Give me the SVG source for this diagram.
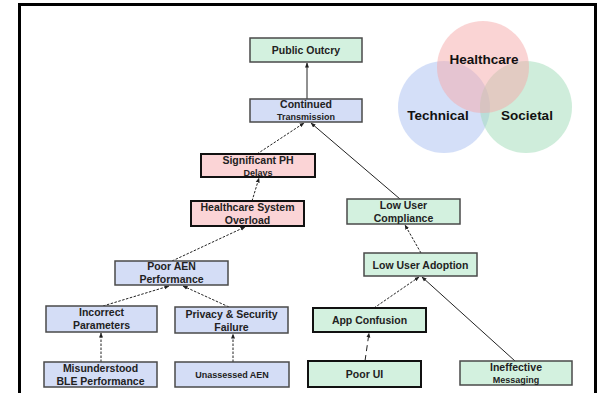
<svg xmlns="http://www.w3.org/2000/svg" width="598" height="393" viewBox="0 0 598 393">
<defs>
<marker id="ah" viewBox="0 0 10 10" refX="9" refY="5" markerWidth="5" markerHeight="5" orient="auto-start-reverse" markerUnits="userSpaceOnUse">
<path d="M0,1 L10,5 L0,9 z" fill="#222"/>
</marker>
<style>
.bx{stroke:#4a4a4a;stroke-width:1.5}
.bk{stroke:#111;stroke-width:2}
.g{fill:#d3f1df}
.b{fill:#d4ddf6}
.p{fill:#fbd4d6}
.t{font-family:"Liberation Sans",Arial,sans-serif;font-weight:bold;fill:#222;text-anchor:middle}
.t1{font-size:10.5px}
.t2{font-size:9px}
.v{font-family:"Liberation Sans",Arial,sans-serif;font-weight:bold;font-size:13.5px;fill:#111;text-anchor:middle}
.sl{stroke:#222;stroke-width:1;fill:none;marker-end:url(#ah)}
.ds{stroke:#222;stroke-width:1;stroke-dasharray:2.5 1.5;fill:none;marker-end:url(#ah)}
.ld{stroke:#222;stroke-width:1;stroke-dasharray:6 4;fill:none;marker-end:url(#ah)}
</style>
</defs>
<rect x="0" y="0" width="598" height="393" fill="#fff"/>
<path d="M19.5,400 L19.5,4.5 L595.5,4.5 L595.5,400" fill="none" stroke="#000" stroke-width="3"/>

<g id="venn">
<circle cx="444" cy="107" r="46" fill="#a9c0f2" fill-opacity="0.5"/>
<circle cx="526" cy="107" r="46" fill="#9fdcb8" fill-opacity="0.5"/>
<circle cx="483" cy="67" r="46" fill="#f6a9a9" fill-opacity="0.5"/>
<text class="v" x="484" y="64">Healthcare</text>
<text class="v" x="438" y="120">Technical</text>
<text class="v" x="527" y="120">Societal</text>
</g>

<g id="connectors">
<line class="sl" x1="307" y1="99" x2="307" y2="63" stroke-width="1.8"/>
<line class="ds" x1="257" y1="154" x2="304" y2="123"/>
<line class="sl" x1="400" y1="199" x2="311" y2="123"/>
<line class="ds" x1="252" y1="201" x2="259" y2="178"/>
<line class="ds" x1="172" y1="261" x2="245" y2="227"/>
<line class="ds" x1="421" y1="253" x2="405" y2="225"/>
<line class="ds" x1="103" y1="306" x2="169" y2="286"/>
<line class="ds" x1="229" y1="307" x2="183" y2="286"/>
<line class="ds" x1="101" y1="362" x2="101" y2="333" stroke="#888"/>
<line class="ds" x1="233" y1="362" x2="233" y2="334" stroke="#888"/>
<line class="ds" x1="374" y1="308" x2="419" y2="277"/>
<line class="sl" x1="515" y1="361" x2="422" y2="277"/>
<line class="ld" x1="365" y1="361" x2="369" y2="333"/>
</g>

<g id="public-outcry"><rect class="bx g" x="250" y="38" width="112" height="24"/><text class="t t1" x="306" y="53.5">Public Outcry</text></g>
<g id="continued-transmission"><rect class="bx b" x="250" y="99" width="112" height="23"/><text class="t t1" x="306" y="108">Continued</text><text class="t t2" x="306" y="120">Transmission</text></g>
<g id="significant-ph-delays"><rect class="bk p" x="201" y="154" width="114" height="23"/><text class="t t1" x="258" y="164">Significant PH</text><text class="t t2" x="258" y="176">Delays</text></g>
<g id="healthcare-system-overload"><rect class="bk p" x="191" y="201" width="113" height="25"/><text class="t t1" x="247.5" y="211">Healthcare System</text><text class="t t1" x="247.5" y="224">Overload</text></g>
<g id="low-user-compliance"><rect class="bx g" x="347" y="199" width="113" height="25"/><text class="t t1" x="403.5" y="209">Low User</text><text class="t t1" x="403.5" y="222">Compliance</text></g>
<g id="low-user-adoption"><rect class="bx g" x="364" y="253" width="113" height="23"/><text class="t t1" x="420.5" y="268.5">Low User Adoption</text></g>
<g id="poor-aen-performance"><rect class="bx b" x="115" y="261" width="113" height="24"/><text class="t t1" x="171.5" y="270">Poor AEN</text><text class="t t1" x="171.5" y="283">Performance</text></g>
<g id="incorrect-parameters"><rect class="bx b" x="46" y="306" width="111" height="26"/><text class="t t1" x="101.5" y="316">Incorrect</text><text class="t t1" x="101.5" y="329">Parameters</text></g>
<g id="privacy-security-failure"><rect class="bx b" x="175" y="307" width="113" height="26"/><text class="t t1" x="231.5" y="318">Privacy &amp; Security</text><text class="t t1" x="231.5" y="331">Failure</text></g>
<g id="app-confusion"><rect class="bk g" x="313" y="308" width="113" height="24"/><text class="t t1" x="369.5" y="324">App Confusion</text></g>
<g id="misunderstood-ble"><rect class="bx b" x="44" y="362" width="113" height="25"/><text class="t t1" x="100.5" y="372">Misunderstood</text><text class="t t1" x="100.5" y="385">BLE Performance</text></g>
<g id="unassessed-aen"><rect class="bx b" x="175" y="362" width="114" height="25"/><text class="t t2" x="232" y="378">Unassessed AEN</text></g>
<g id="poor-ui"><rect class="bk g" x="308" y="361" width="113" height="26"/><text class="t t1" x="364.5" y="377.5">Poor UI</text></g>
<g id="ineffective-messaging"><rect class="bx g" x="460" y="361" width="112" height="24"/><text class="t t1" x="516" y="371">Ineffective</text><text class="t t2" x="516" y="383">Messaging</text></g>
</svg>
